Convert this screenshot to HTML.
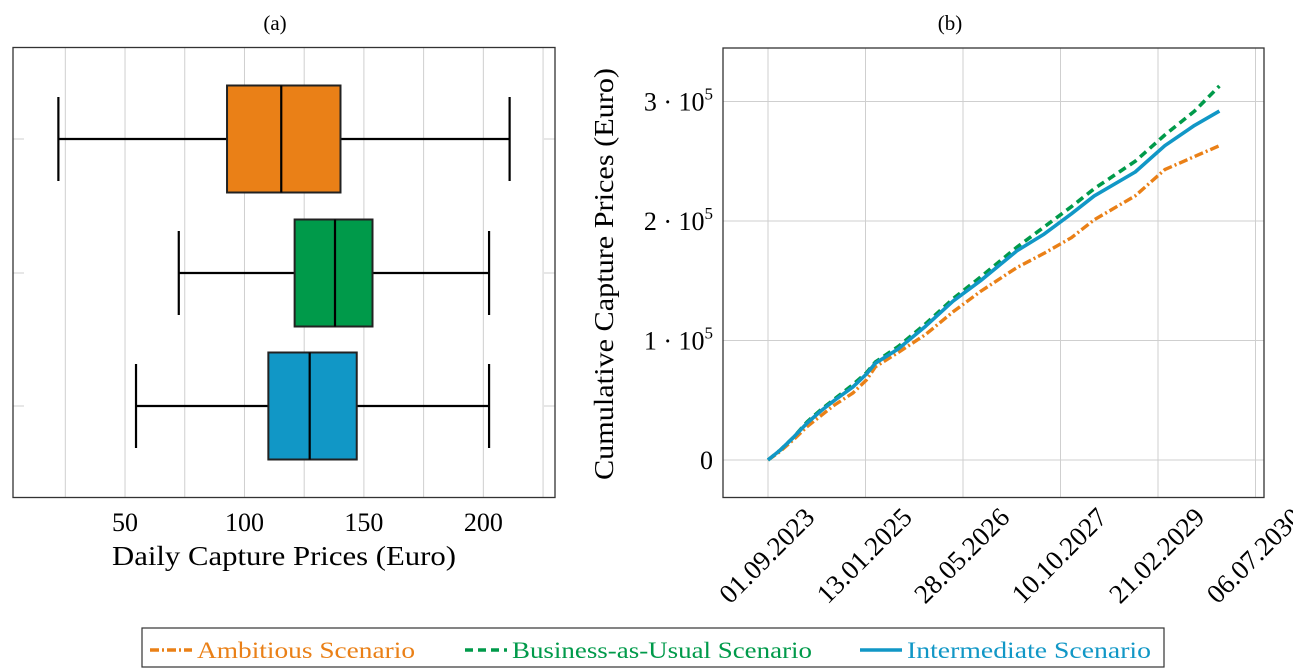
<!DOCTYPE html>
<html><head><meta charset="utf-8"><style>
body{margin:0;background:#fff;}
svg{display:block;font-family:"Liberation Serif",serif;}
</style></head><body>
<svg id="chart" width="1293" height="669" viewBox="0 0 1293 669" xmlns="http://www.w3.org/2000/svg"></svg>
<script>
// ---- Panel (a) box plot data ----
const boxCategories = ['Ambitious', 'Business-as-Usual', 'Intermediate'];
const boxColors = ['#ea8017', '#009a4a', '#1197c6'];
const boxMin = [22.1, 72.5, 54.6];
const boxQ1 = [92.7, 121, 110];
const boxMedian = [115.4, 137.9, 127.3];
const boxQ3 = [140.2, 153.6, 147];
const boxMax = [211, 202.4, 202.4];
const boxTicks = [50, 100, 150, 200];
// ---- Panel (b) line data (days since 01.09.2023, values in Euro) ----
const lineDays = [0, 61, 131, 201, 271, 341, 435, 505, 551, 668, 808, 949, 1089, 1276, 1416, 1556, 1673, 1883, 2035, 2187, 2315];
const ambitiousVals = [0, 7000, 17000, 28000, 37000, 46000, 56000, 67000, 78000, 90000, 105000, 124000, 141000, 161000, 173000, 186000, 201000, 221000, 243000, 254000, 263000];
const bauVals = [0, 8000, 19000, 32000, 42000, 51000, 63000, 73000, 82000, 95000, 114000, 135000, 153000, 178000, 195000, 212000, 227000, 250000, 272000, 292000, 313000];
const intermediateVals = [0, 8000, 19000, 31000, 41000, 50000, 61000, 72000, 81000, 93000, 112000, 133000, 150000, 175000, 189000, 206000, 221000, 241000, 263000, 280000, 292000];
const dateTickDays = [0, 500, 1000, 1500, 2000, 2500];
const dateTickLabels = ['01.09.2023', '13.01.2025', '28.05.2026', '10.10.2027', '21.02.2029', '06.07.2030'];
const yTickVals = [0, 100000, 200000, 300000];
const yTickLabels = ['0', '1', '2', '3'];

const NS = 'http://www.w3.org/2000/svg';
const svg = document.getElementById('chart');
function mk(tag, attrs, parent) {
  const e = document.createElementNS(NS, tag);
  for (const k in attrs) e.setAttribute(k, attrs[k]);
  (parent || svg).appendChild(e);
  return e;
}

// ===== Panel (a) =====
const A = {l: 13, r: 555, t: 47.5, b: 497.5, vmin: 3.1, vmax: 230};
const ax = v => A.l + (v - A.vmin) / (A.vmax - A.vmin) * (A.r - A.l);
const rowY = [139, 273, 406];
const halfH = 53.5, capH = 42;
const ga = mk('g', {});


let t = mk('text', {x: 275, y: 30, 'font-size': 21, 'text-anchor': 'middle'}, ga);
t.textContent = '(a)';


for (let v = 25; v <= 225; v += 25) {
  const g = mk('line', {x1: ax(v), x2: ax(v), y1: A.t, y2: A.b, stroke: '#cfcfcf', 'stroke-width': 1}, ga);
  
  
}
rowY.forEach(y => {
  mk('line', {x1: A.l, x2: A.l + 11, y1: y, y2: y, stroke: '#cfcfcf'}, ga);
  mk('line', {x1: A.r - 11, x2: A.r, y1: y, y2: y, stroke: '#cfcfcf'}, ga);
});
boxTicks.forEach(v => {
  const lb = mk('text', {x: ax(v), y: 531, 'font-size': 26, 'text-anchor': 'middle'}, ga);
  lb.textContent = v;
  
  
});
t = mk('text', {x: 284, y: 565, 'font-size': 27, 'text-anchor': 'middle', textLength: 344, lengthAdjust: 'spacingAndGlyphs'}, ga);
t.textContent = 'Daily Capture Prices (Euro)';


boxCategories.forEach((c, i) => {
  const y = rowY[i];
  const g = mk('g', {}, ga);
  
  
  const st = {stroke: '#000', 'stroke-width': 2.2};
  mk('line', Object.assign({x1: ax(boxMin[i]), x2: ax(boxQ1[i]), y1: y, y2: y}, st), g);
  mk('line', Object.assign({x1: ax(boxQ3[i]), x2: ax(boxMax[i]), y1: y, y2: y}, st), g);
  mk('line', Object.assign({x1: ax(boxMin[i]), x2: ax(boxMin[i]), y1: y - capH, y2: y + capH}, st), g);
  mk('line', Object.assign({x1: ax(boxMax[i]), x2: ax(boxMax[i]), y1: y - capH, y2: y + capH}, st), g);
  mk('rect', {x: ax(boxQ1[i]), y: y - halfH, width: ax(boxQ3[i]) - ax(boxQ1[i]), height: 2 * halfH, fill: boxColors[i], stroke: '#222', 'stroke-width': 2}, g);
  mk('line', Object.assign({x1: ax(boxMedian[i]), x2: ax(boxMedian[i]), y1: y - halfH, y2: y + halfH}, st), g);
});
mk('rect', {x: A.l, y: A.t, width: A.r - A.l, height: A.b - A.t, fill: 'none', stroke: '#333', 'stroke-width': 1.3}, ga);

// ===== Panel (b) =====
const B = {l: 723, r: 1264, t: 48, b: 497.5};
const bx = d => 768 + d / 500 * 97.5;
const by = v => 460 - v / 100000 * 119.5;
const gb = mk('g', {});


t = mk('text', {x: 950, y: 30, 'font-size': 21, 'text-anchor': 'middle'}, gb);
t.textContent = '(b)';


dateTickDays.forEach((d, i) => {
  const g = mk('line', {x1: bx(d), x2: bx(d), y1: B.t, y2: B.b, stroke: '#cfcfcf'}, gb);
  
  
  const lx = bx(d) + 48, ly = 519;
  const lb = mk('text', {x: lx, y: ly, 'font-size': 27, 'text-anchor': 'end', transform: `rotate(-45 ${lx} ${ly})`}, gb);
  lb.textContent = dateTickLabels[i];
  
  
});
yTickVals.forEach((v, i) => {
  const g = mk('line', {x1: B.l, x2: B.r, y1: by(v), y2: by(v), stroke: '#cfcfcf'}, gb);
  
  
  const lb = mk('text', {x: 713, y: by(v) + 9, 'font-size': 26, 'text-anchor': 'end'}, gb);
  if (v === 0) lb.textContent = '0';
  else {
    lb.textContent = yTickLabels[i] + ' · 10';
    const s = mk('tspan', {'font-size': 17, dy: -11}, lb);
    s.textContent = '5';
  }
  
  
});
t = mk('text', {x: 613, y: 274, 'font-size': 27, 'text-anchor': 'middle', textLength: 412, lengthAdjust: 'spacingAndGlyphs', transform: 'rotate(-90 613 274)'}, gb);
t.textContent = 'Cumulative Capture Prices (Euro)';


const series = [
  {name: 'line-ambitious', vals: ambitiousVals, color: '#ea8017', dash: '9 3 2 3', w: 3.4},
  {name: 'line-business-as-usual', vals: bauVals, color: '#009a4a', dash: '8 5', w: 3.6},
  {name: 'line-intermediate', vals: intermediateVals, color: '#1197c6', dash: 'none', w: 3.6}
];
series.forEach(s => {
  const d = lineDays.map((x, i) => (i ? 'L' : 'M') + bx(x).toFixed(1) + ' ' + by(s.vals[i]).toFixed(1)).join(' ');
  const p = mk('path', {d: d, fill: 'none', stroke: s.color, 'stroke-width': s.w, 'stroke-dasharray': s.dash, 'stroke-linejoin': 'round'}, gb);
  
  
});
mk('rect', {x: B.l, y: B.t, width: B.r - B.l, height: B.b - B.t, fill: 'none', stroke: '#333', 'stroke-width': 1.3}, gb);

// ===== Legend =====
const lg = mk('g', {});


mk('rect', {x: 142, y: 628, width: 1022, height: 39, fill: '#fff', stroke: '#333', 'stroke-width': 1.2}, lg);
const entries = [
  {label: 'Ambitious Scenario', color: '#ea8017', dash: '9 3 2 3', x: 150, tw: 218},
  {label: 'Business-as-Usual Scenario', color: '#009a4a', dash: '8 5', x: 465, tw: 300},
  {label: 'Intermediate Scenario', color: '#1197c6', dash: 'none', x: 860, tw: 244}
];
entries.forEach(e => {
  const g = mk('g', {}, lg);
  
  
  mk('line', {x1: e.x, x2: e.x + 42, y1: 650, y2: 650, stroke: e.color, 'stroke-width': 3.5, 'stroke-dasharray': e.dash}, g);
  const tx = mk('text', {x: e.x + 47, y: 658, 'font-size': 23, fill: e.color, textLength: e.tw, lengthAdjust: 'spacingAndGlyphs'}, g);
  tx.textContent = e.label;
});
</script>
</body></html>
